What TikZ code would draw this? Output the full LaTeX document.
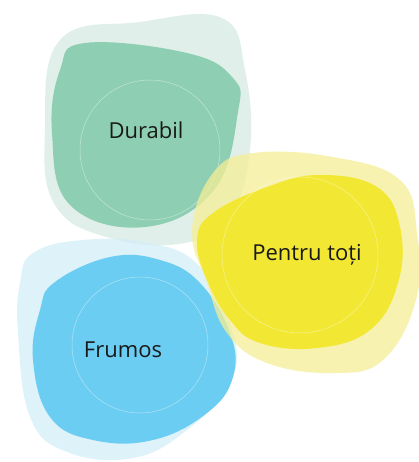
\documentclass[tikz,border=0pt]{standalone}
\usepackage{fontspec}
\setmainfont{Open Sans}
\usetikzlibrary{calc}

\definecolor{greenin}{HTML}{8ECFB3}
\definecolor{greenout}{HTML}{D6EAE1}
\definecolor{yellowin}{HTML}{F2E834}
\definecolor{yellowout}{HTML}{F5EE96}
\definecolor{bluein}{HTML}{6CCDF2}
\definecolor{blueout}{HTML}{D3EDF8}

\begin{document}
\begin{tikzpicture}[x=1pt, y=-1pt,
    blobout/.style={opacity=0.75},
    vein/.style={white, opacity=0.45, line width=0.5pt},
    label/.style={font=\fontsize{22}{26}\selectfont, text=black!90}]
    \useasboundingbox (0,0) rectangle (419,462);

    % Durabil, green blob
        \fill[greenout, blobout] plot[smooth cycle, tension=0.7] coordinates
            {(60,40) (140,22) (222,18) (245,70) (250,150) (230,215) (185,243) (110,238) (55,205) (45,130)};
        \fill[greenin] plot[smooth cycle, tension=0.7] coordinates
            {(85,43) (187,53) (233,78) (238,112) (214,190) (145,227) (70,205) (52,133) (60,70)};
        \draw[vein] (150,150) circle (70);

    % Frumos, blue blob
        \fill[blueout, blobout] plot[smooth cycle, tension=0.7] coordinates
            {(33,253) (83,240) (150,243) (200,267) (233,333) (230,383) (187,430) (133,458) (67,452) (30,417) (18,333) (20,283)};
        \fill[bluein] plot[smooth cycle, tension=0.7] coordinates
            {(55,282) (110,257) (160,260) (200,283) (230,333) (233,377) (207,413) (153,440) (93,440) (50,417) (33,360) (40,310)};
        \draw[vein] (140,345) circle (68);

    % Pentru toti, yellow blob
        \fill[yellowout, blobout] plot[smooth cycle, tension=0.7] coordinates
            {(192,230) (213,173) (253,153) (333,157) (400,180) (417,233) (416,300) (383,360) (333,373) (267,363) (227,333) (207,283)};
        \fill[yellowin] plot[smooth cycle, tension=0.7] coordinates
            {(197,240) (213,213) (267,187) (320,175) (377,187) (400,227) (398,283) (370,330) (317,348) (260,343) (230,320) (207,280)};
        \draw[vein] (300,255) circle (78);

    % labels
        \node[label] (durabil) at (146,130) {Durabil};
        \node[label] (pentru) at (307,255) {Pentru toți};
        \node[label] (frumos) at (123,350) {Frumos};
\end{tikzpicture}
\end{document}
